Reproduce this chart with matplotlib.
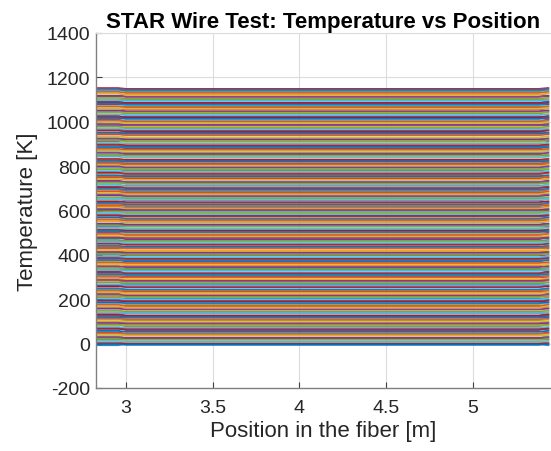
import matplotlib
matplotlib.use("Agg")
import matplotlib.pyplot as plt

plt.rcParams['font.family'] = ['Liberation Sans', 'DejaVu Sans']
plt.rcParams['axes.unicode_minus'] = False

# temperature level of each profile while heating up [K]
heat_levels = [0, 8, 19, 27, 38, 46, 57, 68, 76, 87, 95, 106, 117, 125, 136,
               144, 155, 166, 174, 185, 193, 204, 215, 223, 234, 242, 253,
               264, 272, 283, 291, 302, 313, 321, 332, 340, 351, 362, 370,
               381, 389, 400, 411, 419, 430, 438, 449, 460, 468, 479, 487,
               498, 509, 517, 528, 536, 547, 558, 566, 577, 585, 596, 607,
               615, 626, 634, 645, 656, 664, 675, 683, 694, 705, 713, 724,
               732, 743, 754, 762, 773, 781, 792, 803, 811, 822, 830, 841,
               852, 860, 871, 879, 890, 901, 909, 920, 928, 939, 950, 958,
               969, 977, 988, 999, 1007, 1018, 1026, 1037, 1048, 1056, 1067,
               1075, 1086, 1097, 1105, 1116, 1124, 1135, 1146]

# temperature level of each profile while cooling down [K]
cool_levels = [1148, 1141, 1131, 1123, 1112, 1103, 1094, 1084, 1077, 1066,
               1058, 1047, 1039, 1030, 1020, 1013, 1002, 993, 985, 974, 966,
               957, 947, 940, 929, 920, 912, 901, 893, 884, 874, 867, 856,
               847, 839, 828, 820, 811, 801, 794, 783, 774, 766, 755, 747,
               738, 728, 721, 710, 701, 693, 682, 674, 665, 655, 648, 637,
               628, 620, 609, 601, 592, 582, 575, 564, 555, 547, 536, 528,
               519, 509, 502, 491, 482, 474, 463, 455, 446, 436, 429, 418,
               409, 401, 390, 382, 373, 363, 356, 345, 336, 328, 317, 309,
               300, 290, 283, 272, 263, 255, 244, 236, 227, 217, 210, 199,
               190, 182, 171, 163, 154, 144, 137, 126, 117, 109, 98, 90, 81,
               71, 64, 53, 44, 36, 25, 17, 8, -2, -6]

# positions along the fiber where each profile is sampled [m]
position = [2.827, 2.955, 3.0, 5.38, 5.43, 5.44]
# end effects of a profile relative to its level [K]
heat_offset = [-7, -7, 0, 0, -7, -7]
cool_offset = [4, 4, 0, 0, 4, 4]

matlab_colors = ['#0072BD', '#D95319', '#EDB120', '#7E2F8E',
                 '#77AC30', '#4DBEEE', '#A2142F']

fig = plt.figure(figsize=(5.51, 4.52), dpi=100)
ax = fig.add_axes([96 / 551, 63 / 452, 455 / 551, 355 / 452])

profiles = [(lvl, heat_offset) for lvl in heat_levels] + \
           [(lvl, cool_offset) for lvl in cool_levels]
for i, (lvl, offs) in enumerate(profiles):
    y = [lvl + d for d in offs]
    ax.plot(position, y, color=matlab_colors[i % 7], lw=1.3, alpha=0.85,
            solid_capstyle='butt')

ax.set_xlim(2.827, 5.45)
ax.set_ylim(-200, 1400)
ax.set_xticks([3, 3.5, 4, 4.5, 5])
ax.set_xticklabels(['3', '3.5', '4', '4.5', '5'])
ax.set_yticks(range(-200, 1401, 200))

ax.grid(True, color='#dcdcdc', lw=0.8)
ax.set_axisbelow(True)
ax.tick_params(direction='in', length=4, color='#404040', labelsize=14,
               labelcolor='#262626', width=0.8, pad=4)
ax.tick_params(axis='x', pad=8)
for side in ['left', 'bottom']:
    ax.spines[side].set_color('#808080')
    ax.spines[side].set_linewidth(1.0)
ax.spines['top'].set_color('#dcdcdc')
ax.spines['right'].set_visible(False)

ax.set_title('STAR Wire Test: Temperature vs Position', fontsize=16,
             fontweight='bold', color='black', pad=4)
ax.set_xlabel('Position in the fiber [m]', fontsize=16, color='#262626',
              labelpad=3)
ax.set_ylabel('Temperature [K]', fontsize=16, color='#262626', labelpad=6)

fig.savefig('out.png', dpi=100)
